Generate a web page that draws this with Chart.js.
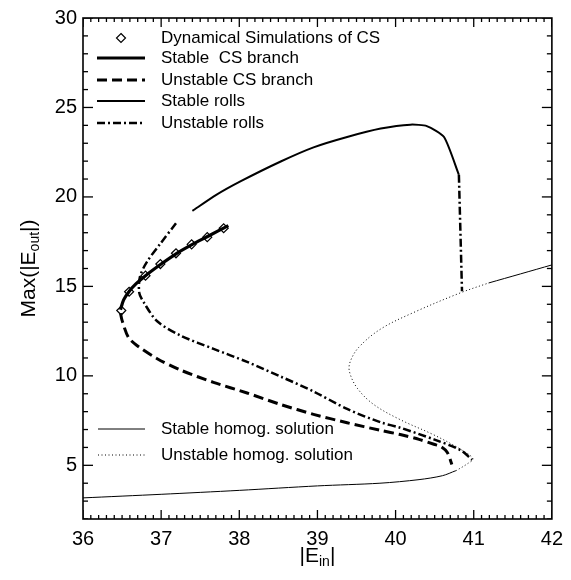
<!DOCTYPE html>
<html>
<head>
<meta charset="utf-8">
<script src="https://cdn.jsdelivr.net/npm/chart.js@4/dist/chart.umd.min.js"></script>
<style>
  html, body { margin: 0; background: #fff; }
</style>
</head>
<body>
<canvas id="chart" width="571" height="580"></canvas>
<script>
// === Données ===
const xTicks = [36, 37, 38, 39, 40, 41, 42];
const yTicks = [5, 10, 15, 20, 25, 30];
const xRange = [36, 42];
const yRange = [2, 30];
const xMinorStep = 0.1;
const yMinorStep = 1;

const simX = [36.49, 36.59, 36.80, 36.99, 37.19, 37.39, 37.59, 37.80];
const simY = [13.65, 14.70, 15.60, 16.25, 16.85, 17.35, 17.75, 18.25];

const stableCsX = [36.48, 36.52, 36.59, 36.68, 36.80, 37.00, 37.20, 37.40, 37.60, 37.86];
const stableCsY = [13.70, 14.25, 14.72, 15.15, 15.60, 16.25, 16.85, 17.35, 17.80, 18.40];

const unstableCsX = [36.48, 36.50, 36.58, 36.69, 36.95, 37.25, 37.67, 38.10, 38.53, 38.95, 39.38, 39.81, 40.06, 40.30, 40.49, 40.58, 40.66, 40.72];
const unstableCsY = [13.50, 13.10, 12.16, 11.70, 10.96, 10.32, 9.64, 9.04, 8.40, 7.85, 7.38, 6.95, 6.72, 6.45, 6.18, 6.05, 5.73, 5.05];

const stableRollsX = [37.40, 37.70, 38.02, 38.53, 38.95, 39.38, 39.81, 40.19, 40.40, 40.62, 40.81];
const stableRollsY = [19.22, 20.10, 20.88, 21.98, 22.77, 23.35, 23.82, 24.04, 23.96, 23.35, 21.24];

const unstableRollsX = [37.19, 36.99, 36.82, 36.73, 36.72, 36.78, 36.95, 37.25, 37.67, 38.10, 38.53, 38.95, 39.38, 39.81, 40.06, 40.49, 40.83, 40.98];
const unstableRollsY = [18.53, 17.39, 16.38, 15.56, 14.64, 14.09, 13.05, 12.25, 11.51, 10.78, 9.96, 9.13, 8.15, 7.40, 7.10, 6.45, 5.85, 5.31];

const rollsEdgeX = [40.81, 40.83, 40.85];
const rollsEdgeY = [21.24, 18.00, 14.73];

const homogLowX = [36.00, 37.00, 38.00, 39.00, 39.80, 40.30, 40.60, 40.77];
const homogLowY = [3.18, 3.38, 3.60, 3.85, 4.00, 4.20, 4.42, 4.70];

const homogHighX = [41.19, 41.60, 42.00];
const homogHighY = [15.19, 15.70, 16.20];

const homogUnstX = [40.77, 40.92, 40.99, 40.83, 40.49, 40.06, 39.72, 39.51, 39.41, 39.42, 39.53, 39.81, 40.23, 40.83, 41.19];
const homogUnstY = [4.69, 5.09, 5.37, 5.90, 6.70, 7.55, 8.40, 9.31, 10.23, 10.80, 11.60, 12.62, 13.54, 14.64, 15.19];

const topLegend = ["Dynamical Simulations of CS", "Stable  CS branch", "Unstable CS branch", "Stable rolls", "Unstable rolls"];
const bottomLegend = ["Stable homog. solution", "Unstable homog. solution"];

const FONT = "'Liberation Sans', Arial, Helvetica, sans-serif";

function pts(xs, ys) {
    return xs.map((x, i) => ({ x: x, y: ys[i] }));
}

function lineSet(xs, ys, st, tension) {
    return {
        data: pts(xs, ys),
        showLine: true,
        borderColor: '#000',
        borderWidth: st.w,
        borderDash: st.dash.slice(),
        pointRadius: 0,
        tension: tension,
        fill: false
    };
}

// styles des traits (légende + courbes)
const lineStyles = {
    stableCs: { w: 3.2, dash: [] },
    unstableCs: { w: 3, dash: [10, 5] },
    stableRolls: { w: 2, dash: [] },
    unstableRolls: { w: 2.5, dash: [8, 3, 2, 3] },
    homogStable: { w: 1, dash: [] },
    homogUnstable: { w: 1, dash: [1, 2.5] }
};

// === Graduations vers l'intérieur : marqueurs "line" coupés au bord du cadre ===
function minorValues(range, step, majors) {
    const out = [];
    const n = Math.round((range[1] - range[0]) / step);
    for (let i = 0; i <= n; i++) {
        const v = +(range[0] + i * step).toFixed(4);
        if (!majors.some(m => Math.abs(m - v) < 1e-6)) out.push(v);
    }
    return out;
}

function tickSet(points, rotation, radius) {
    return {
        data: points,
        showLine: false,
        pointStyle: 'line',
        pointRotation: rotation,
        pointRadius: radius,
        pointBorderWidth: 1.3,
        pointBorderColor: '#000',
        pointBackgroundColor: '#000',
        clip: 0
    };
}

const xMinor = minorValues(xRange, xMinorStep, xTicks);
const yMinor = minorValues(yRange, yMinorStep, yTicks);
const onX = (vals, y) => vals.map(v => ({ x: v, y: y }));
const onY = (vals, x) => vals.map(v => ({ x: x, y: v }));

// === Cadre, titres et légendes ===
function drawParts(ctx, parts, x, y) {
    let w = 0;
    parts.forEach(p => {
        ctx.font = p.sub ? "14px " + FONT : "21px " + FONT;
        w += ctx.measureText(p.t).width;
    });
    let cx = x - w / 2;
    parts.forEach(p => {
        ctx.font = p.sub ? "14px " + FONT : "21px " + FONT;
        ctx.fillText(p.t, cx, p.sub ? y + 6 : y);
        cx += ctx.measureText(p.t).width;
    });
}

function legendLine(ctx, x0, x1, y, st) {
    ctx.save();
    ctx.lineWidth = st.w;
    ctx.setLineDash(st.dash);
    ctx.beginPath();
    ctx.moveTo(x0, y);
    ctx.lineTo(x1, y);
    ctx.stroke();
    ctx.restore();
}

const framePlugin = {
    id: 'framePlugin',
    afterDraw(chart) {
        const ctx = chart.ctx;
        const a = chart.chartArea;
        ctx.save();
        ctx.setLineDash([]);
        ctx.strokeStyle = '#000';
        ctx.fillStyle = '#000';
        ctx.lineWidth = 1.6;
        ctx.strokeRect(a.left, a.top, a.right - a.left, a.bottom - a.top);

        // titres des axes
        ctx.textBaseline = 'middle';
        ctx.textAlign = 'left';
        drawParts(ctx, [{ t: "|E" }, { t: "in", sub: true }, { t: "|" }], (a.left + a.right) / 2, 556);
        ctx.save();
        ctx.translate(29, (a.top + a.bottom) / 2);
        ctx.rotate(-Math.PI / 2);
        drawParts(ctx, [{ t: "Max(|E" }, { t: "out", sub: true }, { t: "|)" }], 0, 0);
        ctx.restore();

        // légende du haut
        ctx.font = "17px " + FONT;
        const rows = [38, 58, 80, 101, 123];
        const lx0 = 97, lx1 = 145, tx = 161;
        ctx.save();
        ctx.lineWidth = 1.2;
        ctx.beginPath();
        ctx.moveTo(121, rows[0] - 4.5);
        ctx.lineTo(125.5, rows[0]);
        ctx.lineTo(121, rows[0] + 4.5);
        ctx.lineTo(116.5, rows[0]);
        ctx.closePath();
        ctx.fillStyle = '#fff';
        ctx.fill();
        ctx.stroke();
        ctx.restore();
        legendLine(ctx, lx0, lx1, rows[1], lineStyles.stableCs);
        legendLine(ctx, lx0, lx1, rows[2], lineStyles.unstableCs);
        legendLine(ctx, lx0, lx1, rows[3], lineStyles.stableRolls);
        legendLine(ctx, lx0, lx1, rows[4], lineStyles.unstableRolls);
        topLegend.forEach((t, i) => ctx.fillText(t, tx, rows[i]));

        // légende du bas
        const rows2 = [429, 455];
        legendLine(ctx, 98, 145, rows2[0], lineStyles.homogStable);
        legendLine(ctx, 98, 145, rows2[1], lineStyles.homogUnstable);
        bottomLegend.forEach((t, i) => ctx.fillText(t, tx, rows2[i]));
        ctx.restore();
    }
};

new Chart(document.getElementById("chart"), {
    type: 'scatter',
    data: {
        datasets: [
            lineSet(homogLowX, homogLowY, lineStyles.homogStable, 0.3),
            lineSet(homogHighX, homogHighY, lineStyles.homogStable, 0.3),
            lineSet(homogUnstX, homogUnstY, lineStyles.homogUnstable, 0.35),
            lineSet(unstableCsX, unstableCsY, lineStyles.unstableCs, 0.3),
            lineSet(unstableRollsX, unstableRollsY, lineStyles.unstableRolls, 0.3),
            lineSet(rollsEdgeX, rollsEdgeY, lineStyles.unstableRolls, 0),
            lineSet(stableRollsX, stableRollsY, lineStyles.stableRolls, 0.2),
            lineSet(stableCsX, stableCsY, lineStyles.stableCs, 0.3),
            {
                data: pts(simX, simY),
                showLine: false,
                pointStyle: 'rectRot',
                pointRadius: 4.5,
                pointBorderWidth: 1.2,
                pointBorderColor: '#000',
                pointBackgroundColor: '#fff'
            },
            // graduations bas / haut
            tickSet(onX(xTicks, yRange[0]).concat(onX(xTicks, yRange[1])), 90, 9),
            tickSet(onX(xMinor, yRange[0]).concat(onX(xMinor, yRange[1])), 90, 4),
            // graduations gauche / droite
            tickSet(onY(yTicks, xRange[0]).concat(onY(yTicks, xRange[1])), 0, 10),
            tickSet(onY(yMinor, xRange[0]).concat(onY(yMinor, xRange[1])), 0, 5)
        ]
    },
    options: {
        responsive: false,
        animation: false,
        layout: { padding: { left: 0, top: 11, right: 19, bottom: 0 } },
        plugins: {
            legend: { display: false },
            tooltip: { enabled: false }
        },
        scales: {
            x: {
                type: 'linear',
                min: xRange[0],
                max: xRange[1],
                grid: { display: false, drawTicks: false },
                border: { display: false },
                afterFit: s => { s.height = 61; },
                afterBuildTicks: s => { s.ticks = xTicks.map(v => ({ value: v })); },
                ticks: { color: '#000', padding: 8, maxRotation: 0, font: { family: FONT, size: 20 } }
            },
            y: {
                type: 'linear',
                min: yRange[0],
                max: yRange[1],
                grid: { display: false, drawTicks: false },
                border: { display: false },
                afterFit: s => { s.width = 83; },
                afterBuildTicks: s => { s.ticks = yTicks.map(v => ({ value: v })); },
                ticks: { color: '#000', padding: 6, font: { family: FONT, size: 20 } }
            }
        }
    },
    plugins: [framePlugin]
});
</script>
</body>
</html>
